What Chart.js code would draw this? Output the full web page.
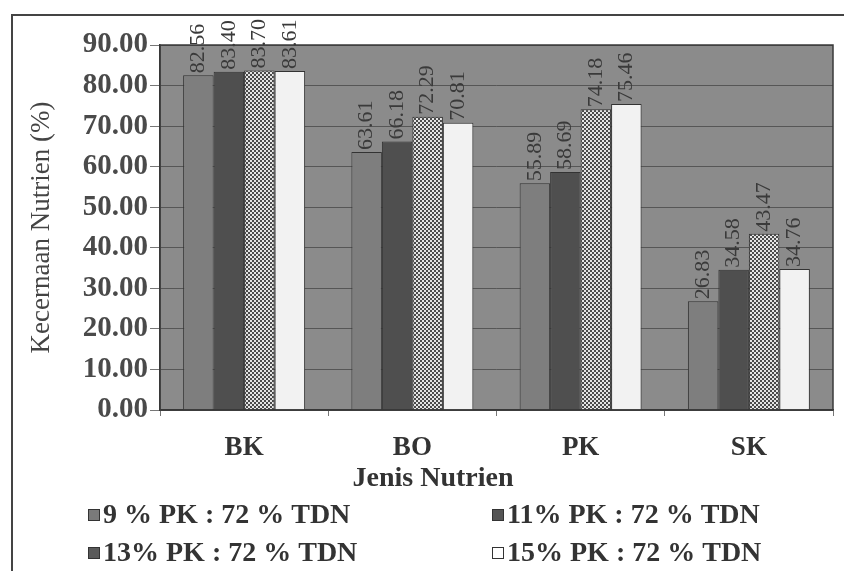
<!DOCTYPE html>
<html>
<head>
<meta charset="utf-8">
<script src="https://cdn.jsdelivr.net/npm/chart.js@4/dist/chart.umd.min.js"></script>
<style>
html,body{margin:0;padding:0;background:#fff;}
#wrap{width:844px;height:571px;position:relative;}
</style>
</head>
<body>
<div id="wrap"><canvas id="c" width="844" height="571"></canvas></div>
<script>
const categories = ["BK", "BO", "PK", "SK"];
const seriesNames = ["9 % PK : 72 % TDN", "11% PK : 72 % TDN", "13% PK : 72 % TDN", "15% PK : 72 % TDN"];
const s9 = [82.56, 63.61, 55.89, 26.83];
const s11 = [83.40, 66.18, 58.69, 34.58];
const s13 = [83.70, 72.29, 74.18, 43.47];
const s15 = [83.61, 70.81, 75.46, 34.76];
const yTicks = [0, 10, 20, 30, 40, 50, 60, 70, 80, 90];
const yTitle = "Kecernaan Nutrien (%)";
const xTitle = "Jenis Nutrien";

function checker() {
  const p = document.createElement('canvas');
  p.width = 4; p.height = 4;
  const g = p.getContext('2d');
  g.fillStyle = '#e4e4e4'; g.fillRect(0,0,4,4);
  g.fillStyle = '#4a4a4a'; g.fillRect(0,0,2,2); g.fillRect(2,2,2,2);
  return g.createPattern(p, 'repeat');
}
const ctx = document.getElementById('c').getContext('2d');
const pat = checker();

const fills = ['#7e7e7e', '#4f4f4f', pat, '#f2f2f2'];
const legendFills = ['#7a7a7a', '#555555', '#5a5a5a', '#ffffff'];
const values = [s9, s11, s13, s15];

const bgPlugin = {
  id: 'bg',
  beforeDraw(chart) {
    const {ctx, chartArea: a} = chart;
    ctx.save();
    ctx.fillStyle = '#8b8b8b';
    ctx.fillRect(a.left, a.top, a.right - a.left, a.bottom - a.top);
    ctx.restore();
  },
  afterDraw(chart) {
    const {ctx, chartArea: a} = chart;
    ctx.save();
    // plot border
    ctx.strokeStyle = '#3a3a3a';
    ctx.lineWidth = 1.5;
    ctx.strokeRect(a.left, a.top, a.right - a.left, a.bottom - a.top);
    // outer frame
    ctx.strokeStyle = '#444';
    ctx.lineWidth = 2;
    ctx.beginPath();
    ctx.moveTo(12, 571); ctx.lineTo(12, 15); ctx.lineTo(844, 15);
    ctx.stroke();
    // x axis title (offset left as in the original)
    ctx.font = 'bold 28px "Liberation Serif"';
    ctx.fillStyle = '#333';
    ctx.textAlign = 'center';
    ctx.textBaseline = 'middle';
    ctx.fillText(xTitle, 433, 479);
    // legend
    ctx.font = 'bold 28px "Liberation Serif"';
    ctx.textBaseline = 'middle';
    ctx.textAlign = 'left';
    const pos = [[88, 515], [492, 515], [88, 553], [492, 553]];
    chart.data.datasets.forEach((ds, i) => {
      const [x, y] = pos[i];
      ctx.fillStyle = legendFills[i];
      ctx.fillRect(x, y - 6, 12, 12);
      ctx.strokeStyle = '#333';
      ctx.lineWidth = 1;
      ctx.strokeRect(x + 0.5, y - 5.5, 11, 11);
      ctx.fillStyle = '#333';
      ctx.fillText(ds.label, x + 15, y + 1);
    });
    ctx.restore();
  },
  afterDatasetsDraw(chart) {
    const {ctx} = chart;
    ctx.save();
    ctx.font = '22px "Liberation Serif"';
    ctx.fillStyle = '#3a3a3a';
    ctx.textAlign = 'left';
    ctx.textBaseline = 'middle';
    chart.data.datasets.forEach((ds, i) => {
      const meta = chart.getDatasetMeta(i);
      meta.data.forEach((el, j) => {
        ctx.save();
        ctx.translate(el.x, el.y - 2);
        ctx.rotate(-Math.PI / 2);
        ctx.fillText(ds.data[j].toFixed(2), 0, 0);
        ctx.restore();
      });
    });
    ctx.restore();
  }
};

new Chart(ctx, {
  type: 'bar',
  data: {
    labels: categories,
    datasets: values.map((v, i) => ({
      label: seriesNames[i],
      data: v,
      backgroundColor: fills[i],
      borderColor: '#333',
      borderWidth: 1,
      barPercentage: 1.0,
      categoryPercentage: 0.725
    }))
  },
  options: {
    responsive: false,
    animation: false,
    layout: { padding: { left: 12, right: 11, top: 45, bottom: 76 } },
    plugins: { legend: { display: false }, tooltip: { enabled: false } },
    scales: {
      y: {
        min: 0, max: 90,
        afterFit(s) { s.width = 148; },
        afterBuildTicks(s) { s.ticks = yTicks.map(v => ({ value: v })); },
        ticks: {
          padding: 2,
          color: '#4a4a4a',
          font: { family: 'Liberation Serif', size: 29, weight: 'bold' },
          callback: v => Number(v).toFixed(2)
        },
        grid: { color: '#565656', lineWidth: 1, tickLength: 10, tickColor: '#777' },
        border: { color: '#333', width: 1.5 },
        title: {
          display: true, text: yTitle, color: '#444',
          font: { family: 'Liberation Serif', size: 27, weight: 'normal' },
          padding: { top: 14, bottom: 0 }
        }
      },
      x: {
        afterFit(s) { s.height = 85; },
        ticks: {
          padding: 16,
          color: '#333',
          font: { family: 'Liberation Serif', size: 27, weight: 'bold' }
        },
        grid: { drawOnChartArea: false, offset: true, tickLength: 6, color: '#777' },
        border: { color: '#333', width: 1.5 },
        title: { display: false, text: xTitle }
      }
    }
  },
  plugins: [bgPlugin]
});
</script>
</body>
</html>
